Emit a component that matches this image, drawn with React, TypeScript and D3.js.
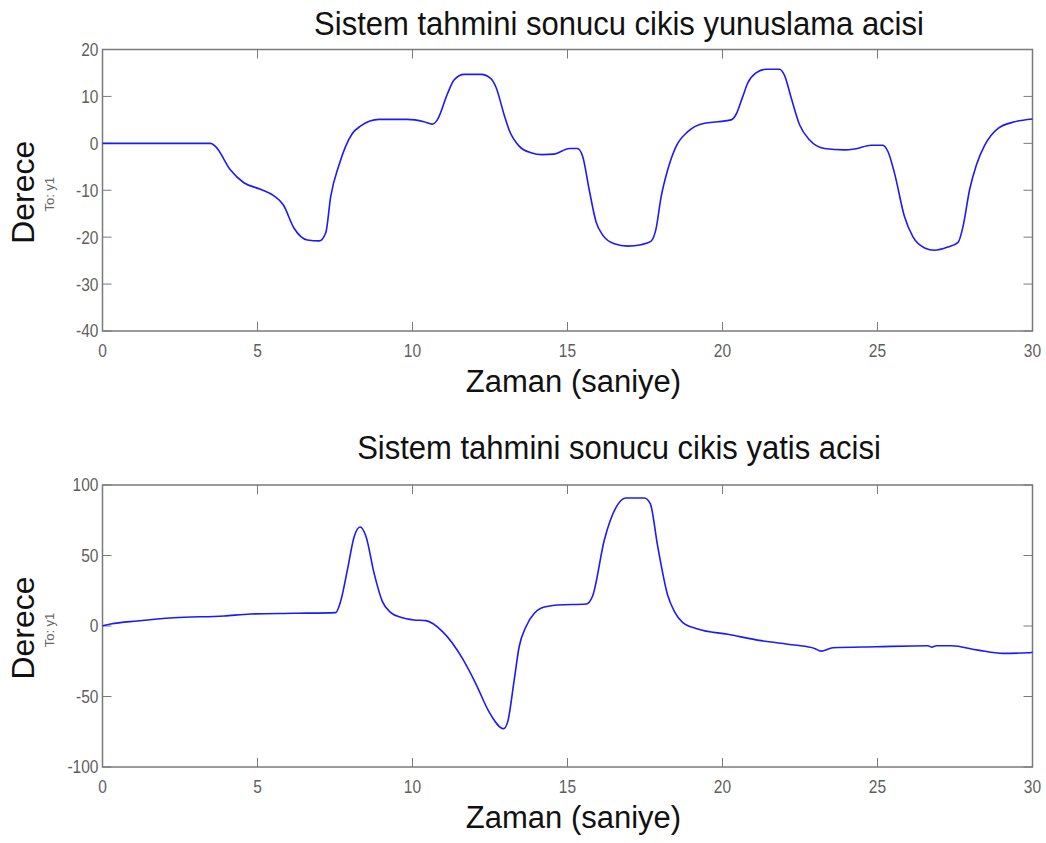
import React from 'react';
import * as d3 from 'd3';

// pitch output (top), [time s, degrees]
const pitchData: [number, number][] = [
  [0, 0], [3.49, 0], [3.65, -0.7], [4.13, -5.7], [4.56, -8.4], [5.1, -9.8], [5.53, -11.2], [5.83, -13.1],
  [6.18, -18.1], [6.61, -20.6], [6.99, -20.8], [7.2, -19.1], [7.36, -11.4], [7.63, -4.6], [8.06, 2.1],
  [8.33, 3.7], [8.92, 5.1], [9.84, 5.1], [10.37, 4.6], [10.64, 4.1], [10.8, 5.0], [11.13, 10.6],
  [11.34, 13.5], [11.67, 14.7], [12.21, 14.7], [12.53, 13.8], [12.69, 12.0], [12.96, 6.0], [13.12, 2.8],
  [13.44, -0.6], [13.82, -2.0], [14.19, -2.4], [14.57, -2.3], [15.06, -1.1], [15.32, -1.1], [15.49, -2.8],
  [15.7, -9.9], [15.92, -16.7], [16.13, -19.5], [16.51, -21.4], [16.94, -21.9], [17.37, -21.6],
  [17.69, -20.9], [17.85, -18.4], [18.02, -11.4], [18.23, -5.7], [18.5, -0.7], [18.88, 2.5], [19.42, 4.3],
  [19.85, 4.6], [20.28, 5.0], [20.44, 6.2], [20.65, 9.9], [20.81, 12.8], [21.08, 15.0], [21.41, 15.8],
  [21.84, 15.8], [22.0, 14.5], [22.22, 9.6], [22.49, 3.9], [22.81, 0.7], [23.29, -1.1], [23.94, -1.4],
  [24.26, -1.2], [24.8, -0.4], [25.17, -0.4], [25.34, -1.8], [25.55, -6.4], [25.87, -15.6], [26.14, -19.9],
  [26.52, -22.3], [26.84, -22.8], [27.27, -22.1], [27.6, -21.1], [27.76, -17.7], [27.97, -9.9],
  [28.19, -4.6], [28.46, -0.4], [28.89, 3.2], [29.43, 4.6], [30, 5.2],
];

// roll output (bottom), [time s, degrees]
const rollData: [number, number][] = [
  [0, 0.2], [0.26, 1.4], [1.12, 3.6], [2.3, 5.9], [3.92, 7.1], [4.78, 8.5], [6.18, 9.0], [7.52, 9.5],
  [7.68, 17.3], [7.9, 39.8], [8.12, 63.5], [8.31, 70.2], [8.5, 63.5], [8.76, 37.5], [9.03, 17.3],
  [9.3, 9.5], [9.62, 6.2], [10.05, 4.3], [10.43, 3.8], [10.97, -4.0], [11.61, -23.0], [12.04, -40.8],
  [12.47, -60.9], [12.94, -72.8], [13.07, -68.0], [13.28, -38.4], [13.44, -14.7], [13.66, -0.5],
  [13.93, 9.0], [14.14, 12.6], [14.68, 14.9], [15.6, 15.6], [15.81, 21.3], [16.19, 61.2], [16.62, 86.1],
  [16.88, 90.8], [17.48, 90.8], [17.67, 86.8], [17.91, 56.4], [18.23, 22.0], [18.45, 10.2], [18.72, 2.4],
  [19.2, -2.1], [20.17, -5.9], [21.25, -10.4], [22.32, -13.5], [22.97, -15.9], [23.18, -17.8],
  [23.56, -15.4], [24.96, -14.7], [26.63, -14.0], [26.74, -15.0], [26.9, -14.0], [27.38, -14.0],
  [28.24, -17.1], [29.05, -19.4], [29.86, -19.0], [30, -18.6],
];

const xTicks = [0, 5, 10, 15, 20, 25, 30];
const pitchTicks = [20, 10, 0, -10, -20, -30, -40];
const rollTicks = [100, 50, 0, -50, -100];

const titles = ['Sistem tahmini sonucu cikis yunuslama acisi', 'Sistem tahmini sonucu cikis yatis acisi'];
const xLabel = 'Zaman (saniye)';
const yLabel = 'Derece';
const subLabel = 'To: y1';

const W = 1046;
const H = 843;
const left = 102.5;
const right = 1032.5;
const axisColor = '#7a7a7a';
const tickColor = '#5f5f5f';
const font = '"Liberation Sans", Arial, sans-serif';

interface PanelProps {
  data: [number, number][];
  yTicks: number[];
  top: number;
  bottom: number;
  title: string;
  titleY: number;
}

const Panel: React.FC<PanelProps> = ({ data, yTicks, top, bottom, title, titleY }) => {
  const x = d3.scaleLinear().domain([0, 30]).range([left, right]);
  const y = d3.scaleLinear().domain(d3.extent(yTicks) as [number, number]).range([bottom, top]);
  const line = d3.line<[number, number]>()
    .x(d => x(d[0]))
    .y(d => y(d[1]))
    .curve(d3.curveMonotoneX);
  const tl = 9;
  const midY = (top + bottom) / 2;
  // squeeze tick labels horizontally a bit, like the narrow MATLAB export
  const squeeze = (cx: number) => `translate(${cx},0) scale(0.84,1) translate(${-cx},0)`;

  return (
    <g>
      <text x={619} y={titleY} textAnchor="middle" fontFamily={font} fontSize={31} fill="#111"
        transform={`translate(0,${titleY}) scale(1,1.06) translate(0,${-titleY})`}>{title}</text>
      {xTicks.map(t => (
        <g key={'x' + t}>
          <line x1={x(t)} x2={x(t)} y1={bottom} y2={bottom - tl} stroke={axisColor} />
          <line x1={x(t)} x2={x(t)} y1={top} y2={top + tl} stroke={axisColor} />
          <text x={x(t)} y={bottom + 26} textAnchor="middle" fontFamily={font} fontSize={18.5} fill={tickColor}
            transform={squeeze(x(t))}>{t}</text>
        </g>
      ))}
      {yTicks.map(v => (
        <g key={'y' + v}>
          <line x1={left} x2={left + tl} y1={y(v)} y2={y(v)} stroke={axisColor} />
          <line x1={right} x2={right - tl} y1={y(v)} y2={y(v)} stroke={axisColor} />
          <text x={left - 4} y={y(v) + 6.5} textAnchor="end" fontFamily={font} fontSize={18.5} fill={tickColor}
            transform={squeeze(left - 4)}>{v}</text>
        </g>
      ))}
      <rect x={left} y={top} width={right - left} height={bottom - top} fill="none" stroke={axisColor} strokeWidth={1.5} />
      <path d={line(data) ?? ''} fill="none" stroke="#1a1aff" strokeWidth={1.6} />
      <text x={(left + right) / 2 + 6} y={bottom + 61} textAnchor="middle" fontFamily={font} fontSize={31} fill="#111">{xLabel}</text>
      <text transform={`translate(34,${midY + 2}) rotate(-90)`} textAnchor="middle" fontFamily={font} fontSize={32} fill="#111">{yLabel}</text>
      <text transform={`translate(54,${midY + 4}) rotate(-90)`} textAnchor="middle" fontFamily={font} fontSize={13} fill="#666">{subLabel}</text>
    </g>
  );
};

export default function App() {
  return (
    <svg width={W} height={H} style={{ position: 'absolute', left: 0, top: 0, background: '#fff' }}>
      <rect width={W} height={H} fill="#fff" />
      <Panel data={pitchData} yTicks={pitchTicks} top={49.5} bottom={331} title={titles[0]} titleY={35} />
      <Panel data={rollData} yTicks={rollTicks} top={485} bottom={767} title={titles[1]} titleY={459} />
    </svg>
  );
}
